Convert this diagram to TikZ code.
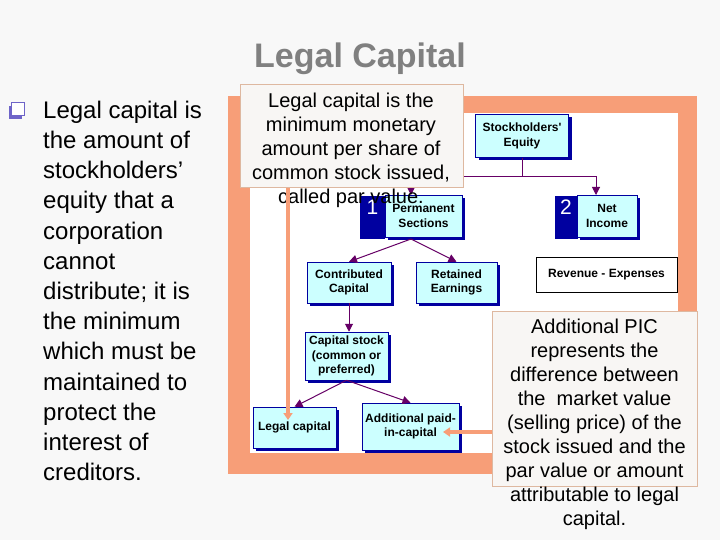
\documentclass[tikz,border=0pt]{standalone}
\usepackage{fontspec}
\setmainfont{Liberation Sans}
\usepackage{tikz}
\usetikzlibrary{arrows.meta,calc,positioning,shadows}
\definecolor{slidebg}{RGB}{248,248,248}
\definecolor{slidegray}{RGB}{128,128,128}
\definecolor{framered}{RGB}{247,158,120}
\definecolor{boxcyan}{RGB}{204,255,255}
\definecolor{boxnavy}{RGB}{0,0,160}
\definecolor{linkpurple}{RGB}{102,0,102}
\definecolor{notefill}{RGB}{248,246,244}
\definecolor{noteline}{RGB}{222,184,160}
\definecolor{bulletpurple}{RGB}{110,100,200}

\begin{document}
\begin{tikzpicture}[x=1pt,y=-1pt,>=Stealth,
  acct/.style={draw=boxnavy,line width=0.5pt,fill=boxcyan,align=center,
    font=\fontsize{12}{14.5}\selectfont\bfseries,inner sep=1pt,
    drop shadow={shadow xshift=3pt,shadow yshift=-3pt,fill=boxnavy,opacity=1}},
  numtab/.style={fill=boxnavy,text=white,anchor=north,minimum width=25pt,
    font=\fontsize{21}{21}\selectfont,text height=15pt,text depth=22pt,inner sep=3pt},
  link/.style={linkpurple,line width=1pt,-{Triangle[length=8pt,width=8pt]}},
  hint/.style={framered,line width=3.5pt,-{Triangle[length=7pt,width=9pt]}},
  note/.style={fill=notefill,draw=noteline,line width=0.6pt},
  notetext/.style={align=center,inner sep=0pt,font=\fontsize{20}{24}\selectfont}]
  % slide
  \fill[slidebg] (0,0) rectangle (720,540);
  \useasboundingbox (0,0) rectangle (720,540);
  \node[font=\fontsize{34}{40}\selectfont\bfseries,text=slidegray,anchor=base] (title) at (360,68) {Legal Capital};
  % bullet
  \fill[bulletpurple] (9,106) rectangle (22,119);
  \draw[bulletpurple,fill=white,line width=1pt] (11,103) rectangle (24,116);
  \node[anchor=north west,inner sep=0pt,align=left,font=\fontsize{24}{30.2}\selectfont] (body) at (43,100.8)
    {Legal capital is\\the amount of\\stockholders’\\equity that a\\corporation\\cannot\\distribute; it is\\the minimum\\which must be\\maintained to\\protect the\\interest of\\creditors.};
  % frame
  \fill[framered] (228,96) rectangle (697,474);
  \fill[white] (250,113) rectangle (678,453);
  % purple tree
  \coordinate (split) at (522,177);
  \coordinate (permtop) at (411,195);
  \coordinate (nitop) at (596,195);
  \coordinate (permbot) at (411,239);
  \node[acct,minimum width=93pt,minimum height=43pt] (se) at (522,136) {Stockholders\textquotesingle\\Equity};
  \draw[linkpurple,line width=1pt] (se.south) -- (split);
  \draw[link] (split) -| (permtop);
  \draw[link] (split) -| (nitop);
  \node[numtab] (tab1) at (372.5,196) {1};
  \node[acct,minimum width=77pt,minimum height=42pt] (perm) at (423.5,216) {Permanent\\Sections};
  \node[numtab,minimum width=23pt] (tab2) at (566,196) {2};
  \node[acct,minimum width=60pt,minimum height=42pt] (ni) at (607,216) {Net\\Income};
  \node[draw,fill=white,line width=0.6pt,minimum width=141pt,minimum height=35pt,
    text height=13pt,text depth=7pt,font=\fontsize{12}{14.5}\selectfont\bfseries] (rev) at (606.5,274.5) {Revenue - Expenses};
  \node[acct,minimum width=84pt,minimum height=41pt] (cc) at (349,282.5) {Contributed\\Capital};
  \node[acct,minimum width=81pt,minimum height=41pt] (re) at (456.5,282.5) {Retained\\Earnings};
  \node[acct,minimum width=83pt,minimum height=48pt] (cs) at (346.5,356) {Capital stock\\(common or\\preferred)};
  \node[acct,minimum width=83pt,minimum height=41pt] (lc) at (294.5,427.5) {Legal capital};
  \node[acct,minimum width=97pt,minimum height=47pt] (apic) at (410.5,426.5) {Additional paid-\\in-capital};
  \draw[link] (permbot) -- (cc.north);
  \draw[link] (permbot) -- (re.north);
  \draw[link] (cc.south) -- (cc.south |- cs.north);
  \draw[link] (cs.south) -- (lc.north);
  \draw[link] (cs.south) -- (apic.north);
  % callouts
  \node[note,anchor=north west,minimum width=223pt,minimum height=103pt] (call1) at (240,84) {};
  \node[notetext,anchor=north] (call1txt) at (351,92.7)
    {Legal capital is the\\minimum monetary\\amount per share of\\common stock issued,\\called par value.};
  \node[note,anchor=north west,minimum width=205pt,minimum height=175pt] (call2) at (492,311) {};
  \node[text=slidegray!60!black,font=\fontsize{9}{9}\selectfont] (pageno) at (655,500) {9};
  \node[notetext,anchor=north] (call2txt) at (594.5,318.7)
    {Additional PIC\\represents the\\difference between\\the \ market value\\(selling price) of the\\stock issued and the\\par value or amount\\attributable to legal\\capital.};
  % orange pointers
  \coordinate (lctip) at (288,420);
  \coordinate (apictip) at (443,432);
  \draw[hint] (call1.south -| lctip) -- (lctip);
  \draw[hint] (call2.west |- apictip) -- (apictip);
\end{tikzpicture}
\end{document}
